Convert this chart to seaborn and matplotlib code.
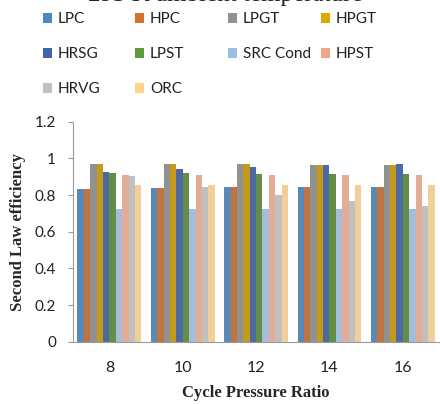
import matplotlib
matplotlib.use("Agg")
import matplotlib.pyplot as plt
import matplotlib.patches as mpatches
from matplotlib.ticker import FixedLocator
import pandas as pd
import seaborn as sns

# Cycle pressure ratios on the x axis
ratios = ["8", "10", "12", "14", "16"]

# Components (legend order) and their colours
components = ["LPC", "HPC", "LPGT", "HPGT", "HRSG", "LPST",
              "SRC Cond", "HPST", "HRVG", "ORC"]
colors = ["#4A8AC4", "#D5702D", "#919191", "#E1A800", "#3E64B0",
          "#5F9A3B", "#9BBDE3", "#EEA68A", "#C0C0C0", "#FFD38A"]

# Second law efficiency of each component at each pressure ratio
LPC = [0.835, 0.837, 0.842, 0.842, 0.842]
HPC = [0.835, 0.837, 0.842, 0.842, 0.842]
LPGT = [0.971, 0.971, 0.969, 0.966, 0.966]
HPGT = [0.971, 0.971, 0.969, 0.966, 0.966]
HRSG = [0.926, 0.940, 0.951, 0.964, 0.971]
LPST = [0.918, 0.918, 0.917, 0.917, 0.917]
SRC_Cond = [0.722, 0.722, 0.722, 0.722, 0.722]
HPST = [0.908, 0.908, 0.908, 0.908, 0.908]
HRVG = [0.902, 0.845, 0.802, 0.767, 0.738]
ORC = [0.853, 0.853, 0.853, 0.853, 0.853]

series = [LPC, HPC, LPGT, HPGT, HRSG, LPST, SRC_Cond, HPST, HRVG, ORC]
rows = []
for name, vals in zip(components, series):
    for r, v in zip(ratios, vals):
        rows.append({"ratio": r, "component": name, "value": v})
df = pd.DataFrame(rows)

sns.set_style("white")
tick_font = "Lato"
serif_font = "Liberation Serif"

W, H = 440, 404
ax_left, ax_right, ax_top, ax_bottom = 72.7, 439.5, 121.7, 341.7

fig = plt.figure(figsize=(W / 100, H / 100), dpi=100)
ax = fig.add_axes([ax_left / W, 1 - ax_bottom / H, (ax_right - ax_left) / W,
                   (ax_bottom - ax_top) / H])

sns.barplot(data=df, x="ratio", y="value", hue="component", order=ratios,
            hue_order=components, palette=colors, width=0.87,
            linewidth=0, errorbar=None, legend=False, ax=ax)

axis_grey = "#9A9A9A"
ax.set_ylim(0, 1.2)
yt = [0, 0.2, 0.4, 0.6, 0.8, 1.0, 1.2]
ax.set_yticks(yt)
ax.set_yticklabels(["0", "0.2", "0.4", "0.6", "0.8", "1", "1.2"],
                   fontfamily=tick_font, fontsize=11, color="#222222")
ax.set_xlim(-0.5, 4.5)
ax.set_xticks(range(len(ratios)))
ax.set_xticklabels(ratios, fontfamily=tick_font, fontsize=11.5, color="#222222")
ax.xaxis.set_minor_locator(FixedLocator([i - 0.5 for i in range(len(ratios) + 1)]))
ax.tick_params(axis="x", which="major", length=0, pad=14)
ax.tick_params(axis="x", which="minor", length=3.5, color=axis_grey, direction="out", width=0.8)
ax.tick_params(axis="y", which="major", length=3.5, color=axis_grey, direction="out",
               width=0.8, pad=8.5, left=True)

for s in ["top", "right"]:
    ax.spines[s].set_visible(False)
for s in ["left", "bottom"]:
    ax.spines[s].set_color(axis_grey)
    ax.spines[s].set_linewidth(0.8)

ax.set_xlabel("Cycle Pressure Ratio", fontfamily=serif_font, fontweight="bold",
              fontsize=12, va="center")
ax.set_ylabel("Second Law efficiency", fontfamily=serif_font, fontweight="bold",
              fontsize=12, va="center")
ax.xaxis.set_label_coords(0.5, -(393 - ax_bottom) / (ax_bottom - ax_top))
ax.yaxis.set_label_coords(-(ax_left - 18) / (ax_right - ax_left), 0.5)

# Title, partly above the top edge
fig.text(225 / W, 1 + 5.5 / H, "293 K ambient temperature", ha="center", va="center",
         fontfamily=serif_font, fontsize=18)

# Legend laid out in four fixed-width columns, row by row
col_x = [42.7, 135.0, 227.7, 320.7]
row_y = [18.3, 52.3, 86.7]
for c in range(4):
    idx = [i for i in range(len(components)) if i % 4 == c]
    handles = [mpatches.Patch(facecolor=colors[i], edgecolor="none") for i in idx]
    labels = [components[i] for i in idx]
    leg = fig.legend(handles, labels, loc="upper left",
                     bbox_to_anchor=(col_x[c] / W, 1 - (row_y[0] - 6) / H),
                     frameon=False, borderaxespad=0, borderpad=0,
                     handlelength=0.62, handleheight=0.62, handletextpad=0.35,
                     labelspacing=1.38, prop={"family": tick_font, "size": 11})
    for t in leg.get_texts():
        t.set_color("#222222")

fig.savefig("out.png", dpi=100)
